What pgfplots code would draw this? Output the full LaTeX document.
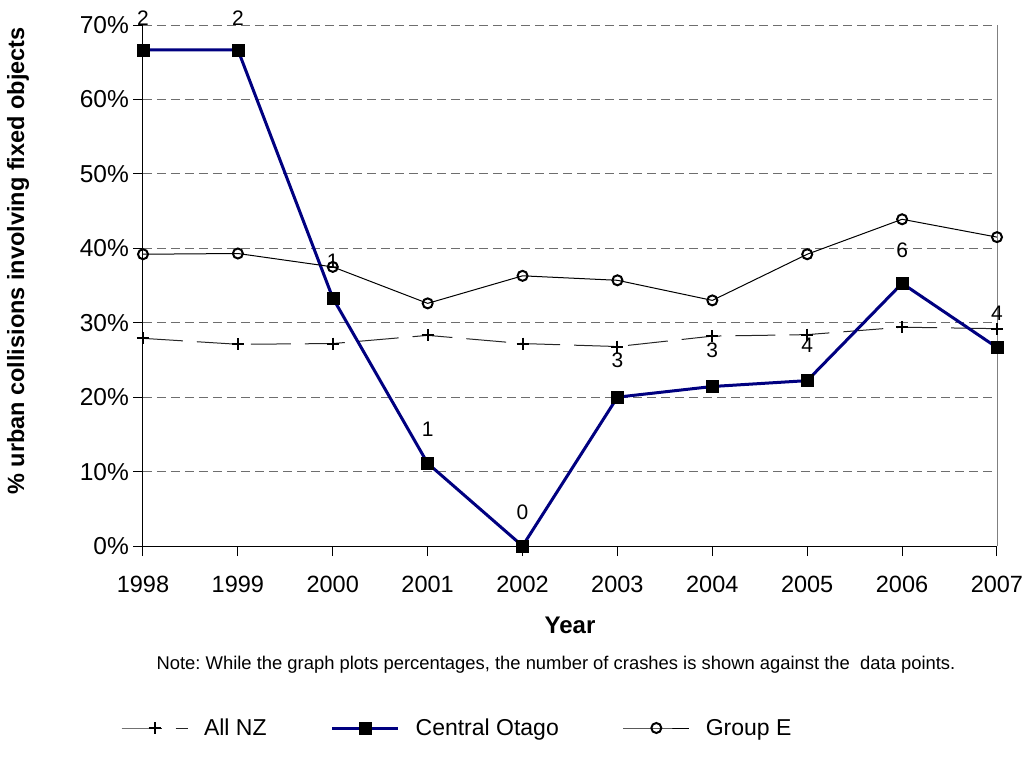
\documentclass[border=0pt]{standalone}
\usepackage{fontspec}
\setmainfont{Liberation Sans}
\usepackage{pgfplots}
\pgfplotsset{compat=1.18}
\definecolor{navyline}{RGB}{0,0,128}
\definecolor{gridgray}{RGB}{110,110,110}
\frenchspacing
\begin{document}
\begin{tikzpicture}
\begin{axis}[
  name=ax,
  at={(0pt,0pt)}, anchor=south west,
  scale only axis,
  width=854pt, height=521pt,
  xmin=1998, xmax=2007,
  ymin=0, ymax=70,
  clip=false,
  axis lines*=left,
  axis line style={-, black, line width=1pt},
  xtick={1998,...,2007},
  xticklabels={1998,1999,2000,2001,2002,2003,2004,2005,2006,2007},
  ytick={0,10,...,70},
  yticklabel={\pgfmathprintnumber{\tick}\%},
  /pgf/number format/assume math mode=true,
  tick align=outside,
  major tick length=10pt,
  tick style={black, line width=1pt},
  ymajorgrids,
  major grid style={gridgray, line width=0.9pt, dash pattern=on 9pt off 5pt},
  ticklabel style={font=\fontsize{23.5}{27}\selectfont},
  xticklabel style={inner sep=0pt, anchor=north, yshift=-20pt},
  yticklabel style={inner sep=0pt, anchor=east, xshift=-4pt, font=\fontsize{24.5}{28}\selectfont},
  xlabel={Year},
  xlabel style={at={(rel axis cs:0.5,0)}, anchor=center, yshift=-79pt, font=\bfseries\fontsize{24}{28}\selectfont},
  ylabel={\% urban collisions involving fixed objects},
  ylabel style={at={([xshift=-125pt,yshift=24.5pt]rel axis cs:0,0.5)}, anchor=center, font=\bfseries\fontsize{23.5}{27}\selectfont},
  legend columns=3,
  legend style={draw=none, at={(0.368,0)}, anchor=center, yshift=-182pt,
    font=\fontsize{23}{27}\selectfont,
    /tikz/every odd column/.append style={column sep=14pt},
    /tikz/every even column/.append style={column sep=62pt}},
  legend image code/.code={\draw[mark repeat=2,mark phase=2,#1] plot coordinates {(0pt,0pt) (33pt,0pt) (66pt,0pt)};},
]
\addplot[black!85, line width=1pt, dash pattern=on 40pt off 14pt,
  mark=+, mark size=6pt, mark options={solid, black, line width=2pt}]
  coordinates {(1998,27.9) (1999,27.1) (2000,27.2) (2001,28.3) (2002,27.2)
               (2003,26.8) (2004,28.2) (2005,28.4) (2006,29.4) (2007,29.2)};
\addlegendentry{All NZ}
\addplot[navyline, line width=3pt,
  mark=square*, mark size=6pt, mark options={solid, black, fill=black, line width=0.5pt}]
  coordinates {(1998,66.67) (1999,66.67) (2000,33.33) (2001,11.11) (2002,0)
               (2003,20.0) (2004,21.43) (2005,22.22) (2006,35.29) (2007,26.67)};
\addlegendentry{Central Otago}
\addplot[black, line width=1pt,
  mark=o, mark size=5pt, mark options={solid, black, fill=white, line width=2pt}]
  coordinates {(1998,39.2) (1999,39.3) (2000,37.5) (2001,32.6) (2002,36.3)
               (2003,35.7) (2004,33.0) (2005,39.2) (2006,43.9) (2007,41.5)};
\addlegendentry{Group E}
\addplot[draw=none, no marks, forget plot,
  nodes near coords, point meta=explicit symbolic,
  every node near coord/.style={anchor=center, inner sep=0pt, font=\fontsize{21}{25}\selectfont, black}]
  table[meta=lab] {
x y lab
1998 70.94 2
1999 70.94 2
2000 38.3 1
2001 15.7 1
2002 4.57 0
2003 25.0 3
2004 26.3 3
2005 27.0 4
2006 39.8 6
2007 31.3 4
};
\draw[gray, line width=1pt] (rel axis cs:1,0) -- (rel axis cs:1,1);
\node[font=\fontsize{18.4}{22}\selectfont, anchor=center] at ([yshift=-119pt]rel axis cs:0.4836,0) {Note: While the graph plots percentages, the number of crashes is shown against the\ \ data points.};
\end{axis}
\pgfresetboundingbox
\path (-143pt,-212pt) rectangle ++(1027pt,758pt);
\end{tikzpicture}
\end{document}
